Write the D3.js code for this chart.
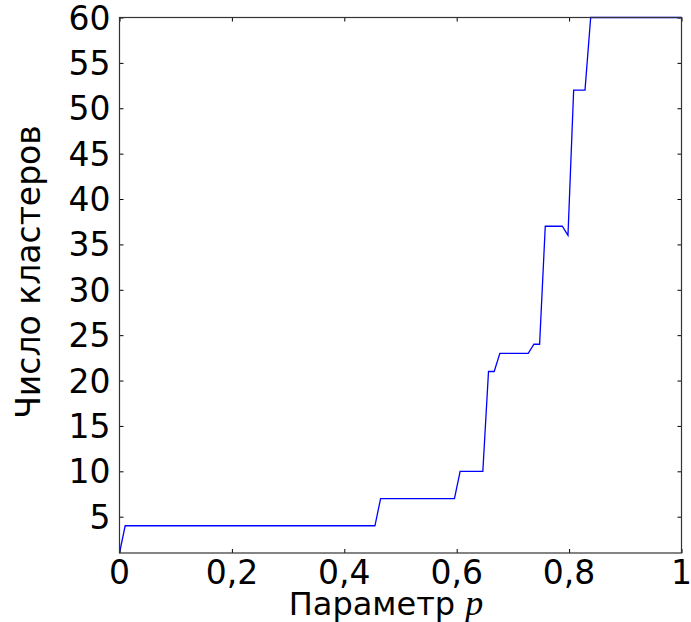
<!DOCTYPE html>
<html><head><meta charset="utf-8">
<script src="https://cdn.jsdelivr.net/npm/d3@7"></script>
<style>body{margin:0;background:#fff}svg{display:block}</style>
</head><body>
<svg id="c" width="691" height="622"></svg>
<script>
// Data: vertices of the line (parameter p, number of clusters)
const pValues = [0, 0.0101, 0.4545, 0.4646, 0.5960, 0.6061, 0.6465, 0.6566, 0.6667, 0.6768, 0.7273, 0.7374, 0.7475, 0.7576, 0.7879, 0.7980, 0.8081, 0.8283, 0.8384, 1.0];
const clusters = [1, 4, 4, 7, 7, 10, 10, 21, 21, 23, 23, 24, 24, 37, 37, 36, 52, 52, 60, 60];
const xTicks = [0, 0.2, 0.4, 0.6, 0.8, 1];
const xTickLabels = ["0", "0,2", "0,4", "0,6", "0,8", "1"];
const yTicks = [5, 10, 15, 20, 25, 30, 35, 40, 45, 50, 55, 60];

const m = {l: 119.5, r: 681.5, t: 17.5, b: 553};
const svg = d3.select("#c");
const x = d3.scaleLinear().domain([0, 1]).range([m.l, m.r]);
const y = d3.scaleLinear().domain([1, 60]).range([m.b, m.t]);
const font = "'DejaVu Sans', sans-serif";
const tl = 4;

// line
const data = pValues.map((p, i) => [p, clusters[i]]);
svg.append("path").datum(data)
  .attr("d", d3.line().x(d => x(d[0])).y(d => y(d[1])))
  .attr("fill", "none").attr("stroke", "#0000ff").attr("stroke-width", 1.3);

// axes with inward ticks
const ax = g => g.selectAll(".domain").remove();
svg.append("g").attr("transform", `translate(0,${m.b})`)
  .call(d3.axisTop(x).tickValues(xTicks).tickSize(tl).tickFormat(""))
  .call(ax).selectAll("line").attr("stroke", "#000");
svg.append("g").attr("transform", `translate(0,${m.t})`)
  .call(d3.axisBottom(x).tickValues(xTicks).tickSize(tl).tickFormat(""))
  .call(ax).selectAll("line").attr("stroke", "#000");
svg.append("g").attr("transform", `translate(${m.l},0)`)
  .call(d3.axisRight(y).tickValues(yTicks).tickSize(tl).tickFormat(""))
  .call(ax).selectAll("line").attr("stroke", "#000");
svg.append("g").attr("transform", `translate(${m.r},0)`)
  .call(d3.axisLeft(y).tickValues(yTicks).tickSize(tl).tickFormat(""))
  .call(ax).selectAll("line").attr("stroke", "#000");

// frame
svg.append("rect").attr("x", m.l).attr("y", m.t)
  .attr("width", m.r - m.l).attr("height", m.b - m.t)
  .attr("fill", "none").attr("stroke", "#333").attr("stroke-width", 1.2);

// tick labels
svg.append("g").selectAll("text").data(xTicks).join("text")
  .attr("x", d => x(d)).attr("y", m.b + 31)
  .attr("text-anchor", "middle").attr("font-family", font).attr("font-size", 33)
  .attr("fill", "#000").text((d, i) => xTickLabels[i]);
svg.append("g").selectAll("text").data(yTicks).join("text")
  .attr("x", m.l - 9).attr("y", d => y(d) + 12)
  .attr("text-anchor", "end").attr("font-family", font).attr("font-size", 33)
  .attr("fill", "#000").text(d => d);

// axis labels
const xl = svg.append("text").attr("x", 386).attr("y", 615)
  .attr("text-anchor", "middle").attr("font-family", font).attr("font-size", 32).attr("fill", "#000");
xl.append("tspan").text("Параметр ");
xl.append("tspan").attr("font-family", "'Liberation Serif', 'DejaVu Serif', serif").attr("font-style", "italic").attr("font-size", 36).text("p");

svg.append("text").attr("transform", `translate(40,272) rotate(-90)`)
  .attr("text-anchor", "middle").attr("font-family", font).attr("font-size", 33)
  .attr("fill", "#000").text("Число кластеров");
</script>
</body></html>
